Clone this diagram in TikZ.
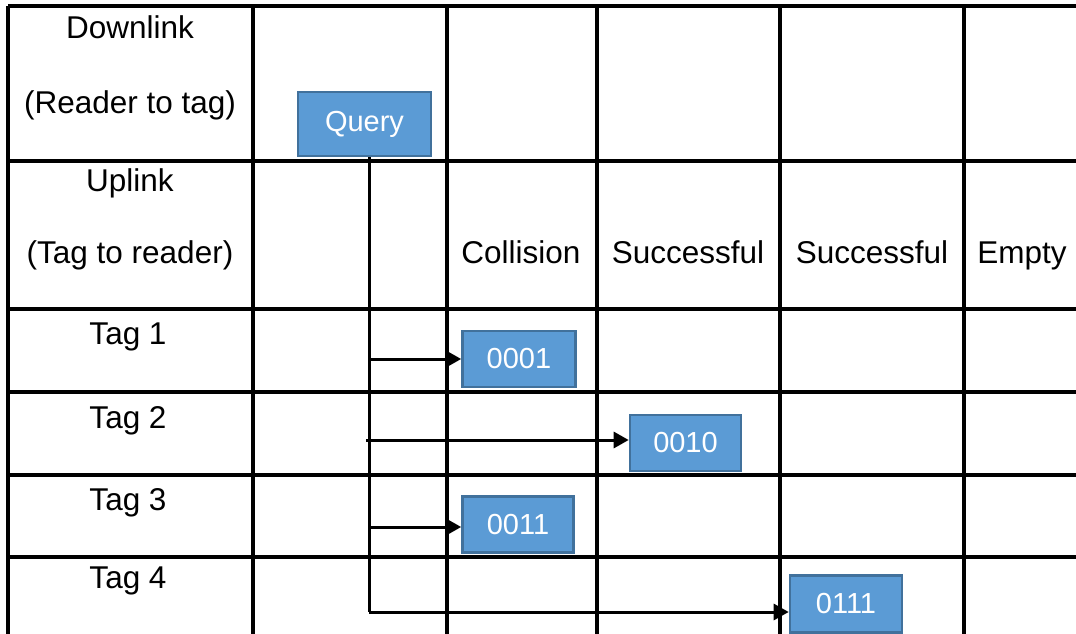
\documentclass[tikz,border=0pt]{standalone}
\usepackage{fontspec}
\setmainfont{Liberation Sans}
\usetikzlibrary{arrows.meta}
\definecolor{boxfill}{HTML}{5B9BD5}
\definecolor{boxline}{HTML}{41719C}
\tikzset{
	gridline/.style={line width=3.2pt},
	wire/.style={line width=3pt},
	arr/.style={wire,-{Triangle[length=15pt,width=16pt]}},
	msg/.style={draw=boxline,line width=2.6pt,fill=boxfill,text=white,inner sep=0pt,
		font=\fontsize{29}{34}\selectfont},
	lbl/.style={anchor=base,inner sep=0pt}
}
\begin{document}
\begin{tikzpicture}[x=1pt,y=-1pt,font=\fontsize{31.5}{38}\selectfont]
	\useasboundingbox (0,0) rectangle (1076,634);
	\foreach \x in {8,253,447,597,780,964}{
		\draw[gridline] (\x,6) -- (\x,634);
	}
	\foreach \y in {6,161,309,392,475,557}{
		\draw[gridline] (8,\y) -- (1076,\y);
	}
	\node[lbl] (dl) at (130,39) {Downlink};
	\node[lbl] (dlsub) at (130,113) {(Reader to tag)};
	\node[lbl] (ul) at (130,191) {Uplink};
	\node[lbl] (ulsub) at (130,263) {(Tag to reader)};
	\node[lbl] (col1) at (521,263) {Collision};
	\node[lbl] (col2) at (688,263) {Successful};
	\node[lbl] (col3) at (872,263) {Successful};
	\node[lbl] (col4) at (1022,263) {Empty};
	\foreach \i/\y in {1/344,2/428,3/510,4/588}{
		\node[lbl] (tag\i) at (128,\y) {Tag \i};
	}
	\node[msg,minimum width=133pt,minimum height=64pt] (query) at (364.5,124) {Query};
	\node[msg,minimum width=113pt,minimum height=56pt] (r1) at (519,359) {0001};
	\node[msg,minimum width=111pt,minimum height=56pt] (r2) at (685.5,443) {0010};
	\node[msg,minimum width=111pt,minimum height=56pt] (r3) at (518,524.5) {0011};
	\node[msg,minimum width=112pt,minimum height=57pt] (r4) at (846,604) {0111};
	\coordinate (s1) at (369,359);
	\coordinate (s2) at (366,440);
	\coordinate (s3) at (369,527);
	\coordinate (s4) at (369,612);
	\draw[wire] (query.south -| s1) -- (s4);
	\foreach \i in {1,...,4}{
		\draw[arr] (s\i) -- (s\i -| r\i.west);
	}
\end{tikzpicture}
\end{document}
